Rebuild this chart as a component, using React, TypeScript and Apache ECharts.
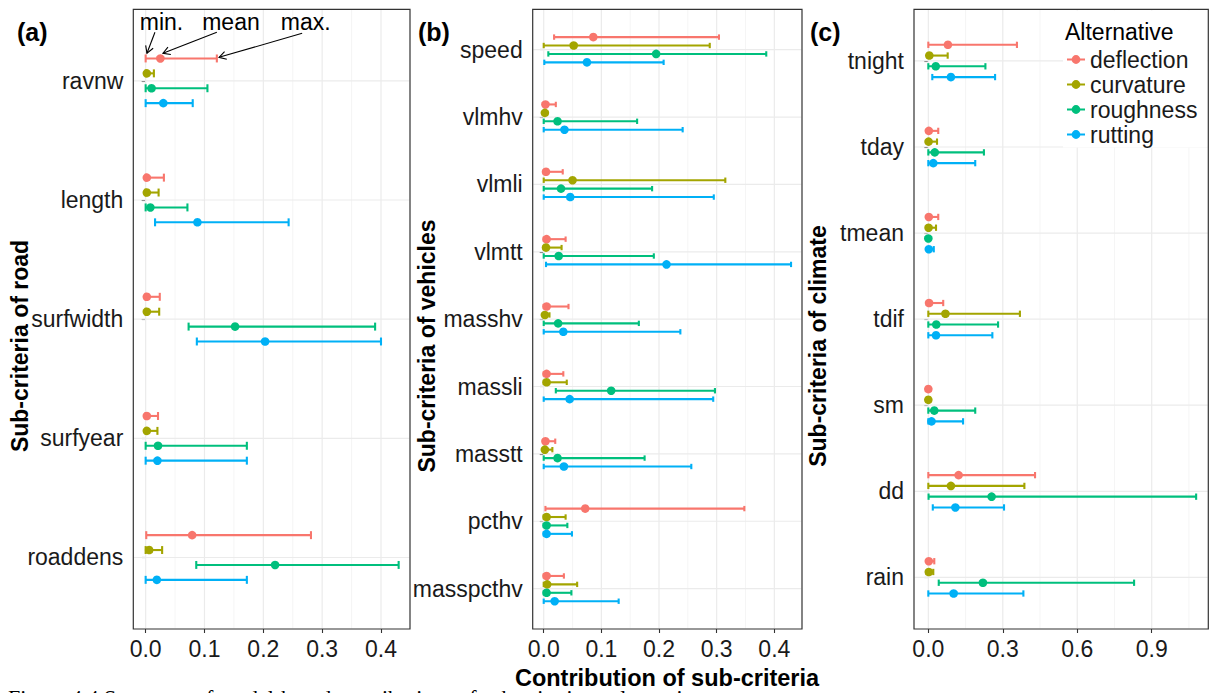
import React, { useEffect, useRef } from 'react';
import * as echarts from 'echarts';

const FONT = '"Liberation Sans", Arial, Helvetica, sans-serif';
const SERIF = '"Liberation Serif", "Times New Roman", serif';

const ALTERNATIVES = ['deflection', 'curvature', 'roughness', 'rutting'];
const COLORS = ['#F8766D', '#A3A500', '#00BF7D', '#00B0F6'];

// ---- panel (a): road ----  rows = [min, mean, max]
const ROAD_CATS = ['ravnw', 'length', 'surfwidth', 'surfyear', 'roaddens'];
const ROAD_DEFLECTION = [[0, 0.025, 0.121], [0, 0.002, 0.031], [0, 0.002, 0.024], [0, 0.002, 0.021], [0.001, 0.079, 0.281]];
const ROAD_CURVATURE = [[0, 0.002, 0.014], [0, 0.002, 0.022], [0, 0.002, 0.023], [0, 0.002, 0.020], [0, 0.006, 0.028]];
const ROAD_ROUGHNESS = [[0, 0.010, 0.105], [0, 0.008, 0.071], [0.073, 0.152, 0.390], [0, 0.021, 0.172], [0.086, 0.220, 0.430]];
const ROAD_RUTTING = [[0, 0.030, 0.080], [0.016, 0.088, 0.243], [0.087, 0.203, 0.400], [0, 0.020, 0.172], [0, 0.019, 0.172]];

// ---- panel (b): vehicles ----
const VEH_CATS = ['speed', 'vlmhv', 'vlmli', 'vlmtt', 'masshv', 'massli', 'masstt', 'pcthv', 'masspcthv'];
const VEH_DEFLECTION = [[0.018, 0.086, 0.304], [0, 0.003, 0.021], [0, 0.004, 0.033], [0, 0.005, 0.038], [0, 0.005, 0.043], [0, 0.005, 0.034], [0, 0.003, 0.020], [0.003, 0.072, 0.348], [0, 0.005, 0.035]];
const VEH_CURVATURE = [[0, 0.052, 0.288], [0, 0.002, 0.006], [0, 0.050, 0.315], [0, 0.004, 0.031], [0, 0.002, 0.010], [0, 0.005, 0.040], [0, 0.002, 0.015], [0, 0.005, 0.038], [0, 0.006, 0.058]];
const VEH_ROUGHNESS = [[0.008, 0.195, 0.386], [0, 0.024, 0.162], [0, 0.030, 0.188], [0, 0.026, 0.191], [0, 0.025, 0.165], [0.021, 0.117, 0.297], [0, 0.024, 0.175], [0, 0.005, 0.041], [0, 0.005, 0.048]];
const VEH_RUTTING = [[0.001, 0.075, 0.208], [0, 0.036, 0.241], [0, 0.046, 0.295], [0.004, 0.213, 0.429], [0, 0.034, 0.237], [0, 0.045, 0.294], [0, 0.035, 0.256], [0, 0.005, 0.049], [0, 0.019, 0.130]];

// ---- panel (c): climate ----
const CLIM_CATS = ['tnight', 'tday', 'tmean', 'tdif', 'sm', 'dd', 'rain'];
const CLIM_DEFLECTION = [[0, 0.079, 0.357], [0, 0.002, 0.040], [0, 0.002, 0.040], [0, 0.003, 0.060], [0, 0.0, 0.003], [0, 0.122, 0.430], [0, 0.002, 0.024]];
const CLIM_CURVATURE = [[0, 0.004, 0.078], [0, 0.001, 0.035], [0, 0.001, 0.031], [0, 0.069, 0.369], [0, 0.0, 0.002], [0, 0.091, 0.387], [0, 0.002, 0.020]];
const CLIM_ROUGHNESS = [[0, 0.030, 0.230], [0, 0.026, 0.224], [0, 0.0, 0.002], [0, 0.032, 0.281], [0, 0.024, 0.189], [0.001, 0.255, 1.079], [0.042, 0.220, 0.829]];
const CLIM_RUTTING = [[0.016, 0.091, 0.269], [0, 0.020, 0.189], [0, 0.002, 0.022], [0, 0.031, 0.258], [0, 0.013, 0.140], [0.018, 0.109, 0.305], [0, 0.102, 0.383]];

// ---- axis ticks ----
const X_MAJOR_AB = [0, 0.1, 0.2, 0.3, 0.4];
const X_MINOR_AB = [0.05, 0.15, 0.25, 0.35];
const X_MAJOR_C = [0, 0.3, 0.6, 0.9];
const X_MINOR_C = [0.15, 0.45, 0.75, 1.05];

// ---- annotation in panel (a) ----
const ANNOT_LABELS = ['min.', 'mean', 'max.'];
const ANNOT_TEXT = [[0.027, 0.509], [0.145, 0.509], [0.272, 0.509]];
const ANNOT_ARROWS = [[0.0158, 0.593, 0.0022, 0.769], [0.121, 0.593, 0.0294, 0.769], [0.266, 0.601, 0.1247, 0.803]];

const DODGE = [-0.1875, -0.0625, 0.0625, 0.1875];
const CAP = 0.05;

const PANELS = [
  { cats: ROAD_CATS, data: [ROAD_DEFLECTION, ROAD_CURVATURE, ROAD_ROUGHNESS, ROAD_RUTTING], xMin: -0.021, xMax: 0.4493, major: X_MAJOR_AB, minor: X_MINOR_AB, grid: { left: 133.3, top: 9.3, width: 276.7, height: 619.7 } },
  { cats: VEH_CATS, data: [VEH_DEFLECTION, VEH_CURVATURE, VEH_ROUGHNESS, VEH_RUTTING], xMin: -0.0191, xMax: 0.448, major: X_MAJOR_AB, minor: X_MINOR_AB, grid: { left: 532.7, top: 9.3, width: 269.3, height: 619.7 } },
  { cats: CLIM_CATS, data: [CLIM_DEFLECTION, CLIM_CURVATURE, CLIM_ROUGHNESS, CLIM_RUTTING], xMin: -0.0577, xMax: 1.128, major: X_MAJOR_C, minor: X_MINOR_C, grid: { left: 914, top: 9.3, width: 294.3, height: 619.7 } },
];

const LEGEND_ICON = 'path://M0,4H18V6H0Z M4.6,5A4.4,4.4 0 1,1 13.4,5A4.4,4.4 0 1,1 4.6,5Z';

function buildOption() {
  const grids: any[] = [];
  const xAxes: any[] = [];
  const yAxes: any[] = [];
  const series: any[] = [];

  PANELS.forEach((p, pi) => {
    const n = p.cats.length;
    const catVals = p.cats.map((_, i) => i + 1);
    grids.push({ ...p.grid, show: true, z: 10, backgroundColor: 'transparent', borderColor: '#333333', borderWidth: 1.2, containLabel: false });
    xAxes.push({
      type: 'value', gridIndex: pi, min: p.xMin, max: p.xMax,
      axisLine: { show: false }, splitLine: { show: false },
      axisTick: { show: true, customValues: p.major, length: 4, lineStyle: { color: '#333333', width: 1.1 } },
      axisLabel: { customValues: p.major, formatter: (v: number) => v.toFixed(1), fontSize: 23, color: '#1a1a1a', fontFamily: FONT, margin: 8 },
    });
    yAxes.push({
      type: 'value', gridIndex: pi, min: 0.4, max: n + 0.6, inverse: true,
      axisLine: { show: false }, splitLine: { show: false },
      axisTick: { show: true, customValues: catVals, length: 4, lineStyle: { color: '#333333', width: 1.1 } },
      axisLabel: { customValues: catVals, formatter: (v: number) => p.cats[Math.round(v) - 1] ?? '', fontSize: 23, color: '#1a1a1a', fontFamily: FONT, margin: 10 },
    });

    // grid lines
    const gridRows: number[][] = [
      ...p.major.map((v) => [0, v, 1]),
      ...p.minor.map((v) => [0, v, 0]),
      ...catVals.map((v) => [1, v, 1]),
    ];
    series.push({
      type: 'custom', xAxisIndex: pi, yAxisIndex: pi, silent: true, z: 1, clip: true,
      data: gridRows,
      encode: { x: 1, y: 1 },
      renderItem: (params: any, api: any) => {
        const cs = params.coordSys;
        const kind = api.value(0);
        const v = api.value(1);
        const major = api.value(2) === 1;
        const style = { stroke: major ? '#EBEBEB' : '#F3F3F3', lineWidth: major ? 1.2 : 0.8 };
        if (kind === 0) {
          const x = api.coord([v, 1])[0];
          return { type: 'line', shape: { x1: x, y1: cs.y + 0.6, x2: x, y2: cs.y + cs.height - 0.6 }, style };
        }
        const y = api.coord([0, v])[1];
        return { type: 'line', shape: { x1: cs.x + 0.6, y1: y, x2: cs.x + cs.width - 0.6, y2: y }, style };
      },
    });

    // error bars
    p.data.forEach((rows, ai) => {
      const color = COLORS[ai];
      series.push({
        type: 'custom', name: ALTERNATIVES[ai], xAxisIndex: pi, yAxisIndex: pi, z: 2, silent: true,
        itemStyle: { color },
        data: rows.map((r, i) => [r[0], r[1], r[2], i + 1]),
        encode: { x: [0, 1, 2], y: 3 },
        renderItem: (params: any, api: any) => {
          const lo = api.value(0), mean = api.value(1), hi = api.value(2);
          const y = api.value(3) + DODGE[ai];
          const a = api.coord([lo, y]);
          const b = api.coord([hi, y]);
          const m = api.coord([mean, y]);
          const capH = Math.abs(api.coord([lo, y + CAP / 2])[1] - api.coord([lo, y - CAP / 2])[1]);
          const ls = { stroke: color, lineWidth: 2.1 };
          return {
            type: 'group',
            children: [
              { type: 'line', shape: { x1: a[0], y1: a[1], x2: b[0], y2: b[1] }, style: ls },
              { type: 'line', shape: { x1: a[0], y1: a[1] - capH / 2 - 1, x2: a[0], y2: a[1] + capH / 2 + 1 }, style: ls },
              { type: 'line', shape: { x1: b[0], y1: b[1] - capH / 2 - 1, x2: b[0], y2: b[1] + capH / 2 + 1 }, style: ls },
              { type: 'circle', shape: { cx: m[0], cy: m[1], r: 4.3 }, style: { fill: color } },
            ],
          };
        },
      });
    });
  });

  // annotation arrows in panel (a)
  series.push({
    type: 'custom', xAxisIndex: 0, yAxisIndex: 0, z: 3, silent: true, clip: false,
    data: ANNOT_ARROWS.map((a, i) => [ANNOT_TEXT[i][0], ANNOT_TEXT[i][1], a[0], a[1], a[2], a[3]]),
    encode: { x: 0, y: 1 },
    renderItem: (params: any, api: any) => {
      const t = api.coord([api.value(0), api.value(1)]);
      const s = api.coord([api.value(2), api.value(3)]);
      const e = api.coord([api.value(4), api.value(5)]);
      const ang = Math.atan2(e[1] - s[1], e[0] - s[0]);
      const L = 8, A = Math.PI / 6;
      const h1 = [e[0] - L * Math.cos(ang - A), e[1] - L * Math.sin(ang - A)];
      const h2 = [e[0] - L * Math.cos(ang + A), e[1] - L * Math.sin(ang + A)];
      const st = { stroke: '#000', lineWidth: 1.1 };
      return {
        type: 'group',
        children: [
          { type: 'text', style: { text: ANNOT_LABELS[params.dataIndex], x: t[0], y: t[1], fill: '#000', fontSize: 23, fontFamily: FONT, align: 'center', verticalAlign: 'middle', textAlign: 'center', textVerticalAlign: 'middle' } },
          { type: 'line', shape: { x1: s[0], y1: s[1], x2: e[0], y2: e[1] }, style: st },
          { type: 'polyline', shape: { points: [h1, e, h2] }, style: { ...st, fill: 'none' } },
        ],
      };
    },
  });

  const txt = (text: string, x: number, y: number, size: number, bold: boolean, extra: any = {}) => ({
    type: 'text', x, y, z: 20, rotation: extra.rotation || 0,
    style: { text, x: 0, y: 0, fill: '#000', fontSize: size, fontWeight: bold ? 'bold' : 'normal', fontFamily: extra.family || FONT, align: extra.align || 'center', verticalAlign: extra.valign || 'middle', textAlign: extra.align || 'center', textVerticalAlign: extra.valign || 'middle' },
  });

  const graphic = [
    { type: 'rect', z: 3, shape: { x: 1063, y: 10.5, width: 144.5, height: 137 }, style: { fill: '#ffffff' } },
    txt('(a)', 17, 31.5, 25, true, { align: 'left' }),
    txt('(b)', 418, 31.5, 25, true, { align: 'left' }),
    txt('(c)', 810, 31.5, 25, true, { align: 'left' }),
    txt('Sub-criteria of road', 20, 346, 23, true, { rotation: Math.PI / 2 }),
    txt('Sub-criteria of vehicles', 427, 346, 23, true, { rotation: Math.PI / 2 }),
    txt('Sub-criteria of climate', 818, 346, 23, true, { rotation: Math.PI / 2 }),
    txt('Contribution of sub-criteria', 667, 678, 23.5, true),
    txt('Alternative', 1065, 31.5, 23, false, { align: 'left' }),
    txt('Figure 4.4 Summary of model-based contributions of sub-criteria to alternatives', 8, 686.5, 22, false, { align: 'left', valign: 'top', family: SERIF }),
  ];

  return {
    animation: false,
    backgroundColor: '#ffffff',
    grid: grids,
    xAxis: xAxes,
    yAxis: yAxes,
    legend: {
      show: true, orient: 'vertical', left: 1067, top: 47, padding: 0, itemGap: 0,
      itemWidth: 18, itemHeight: 10, selectedMode: false, z: 4,
      data: ALTERNATIVES.map((name) => ({ name, icon: LEGEND_ICON })),
      textStyle: { fontSize: 23, color: '#1a1a1a', fontFamily: FONT, lineHeight: 25 },
    },
    series,
    graphic,
  };
}

export default function App() {
  const ref = useRef<HTMLDivElement>(null);
  useEffect(() => {
    if (!ref.current) return;
    const chart = echarts.init(ref.current, null, { renderer: 'svg' });
    chart.setOption(buildOption() as any);
    return () => chart.dispose();
  }, []);
  return <div ref={ref} style={{ position: 'fixed', left: 0, top: 0, width: 1214, height: 693, background: '#fff' }} />;
}
